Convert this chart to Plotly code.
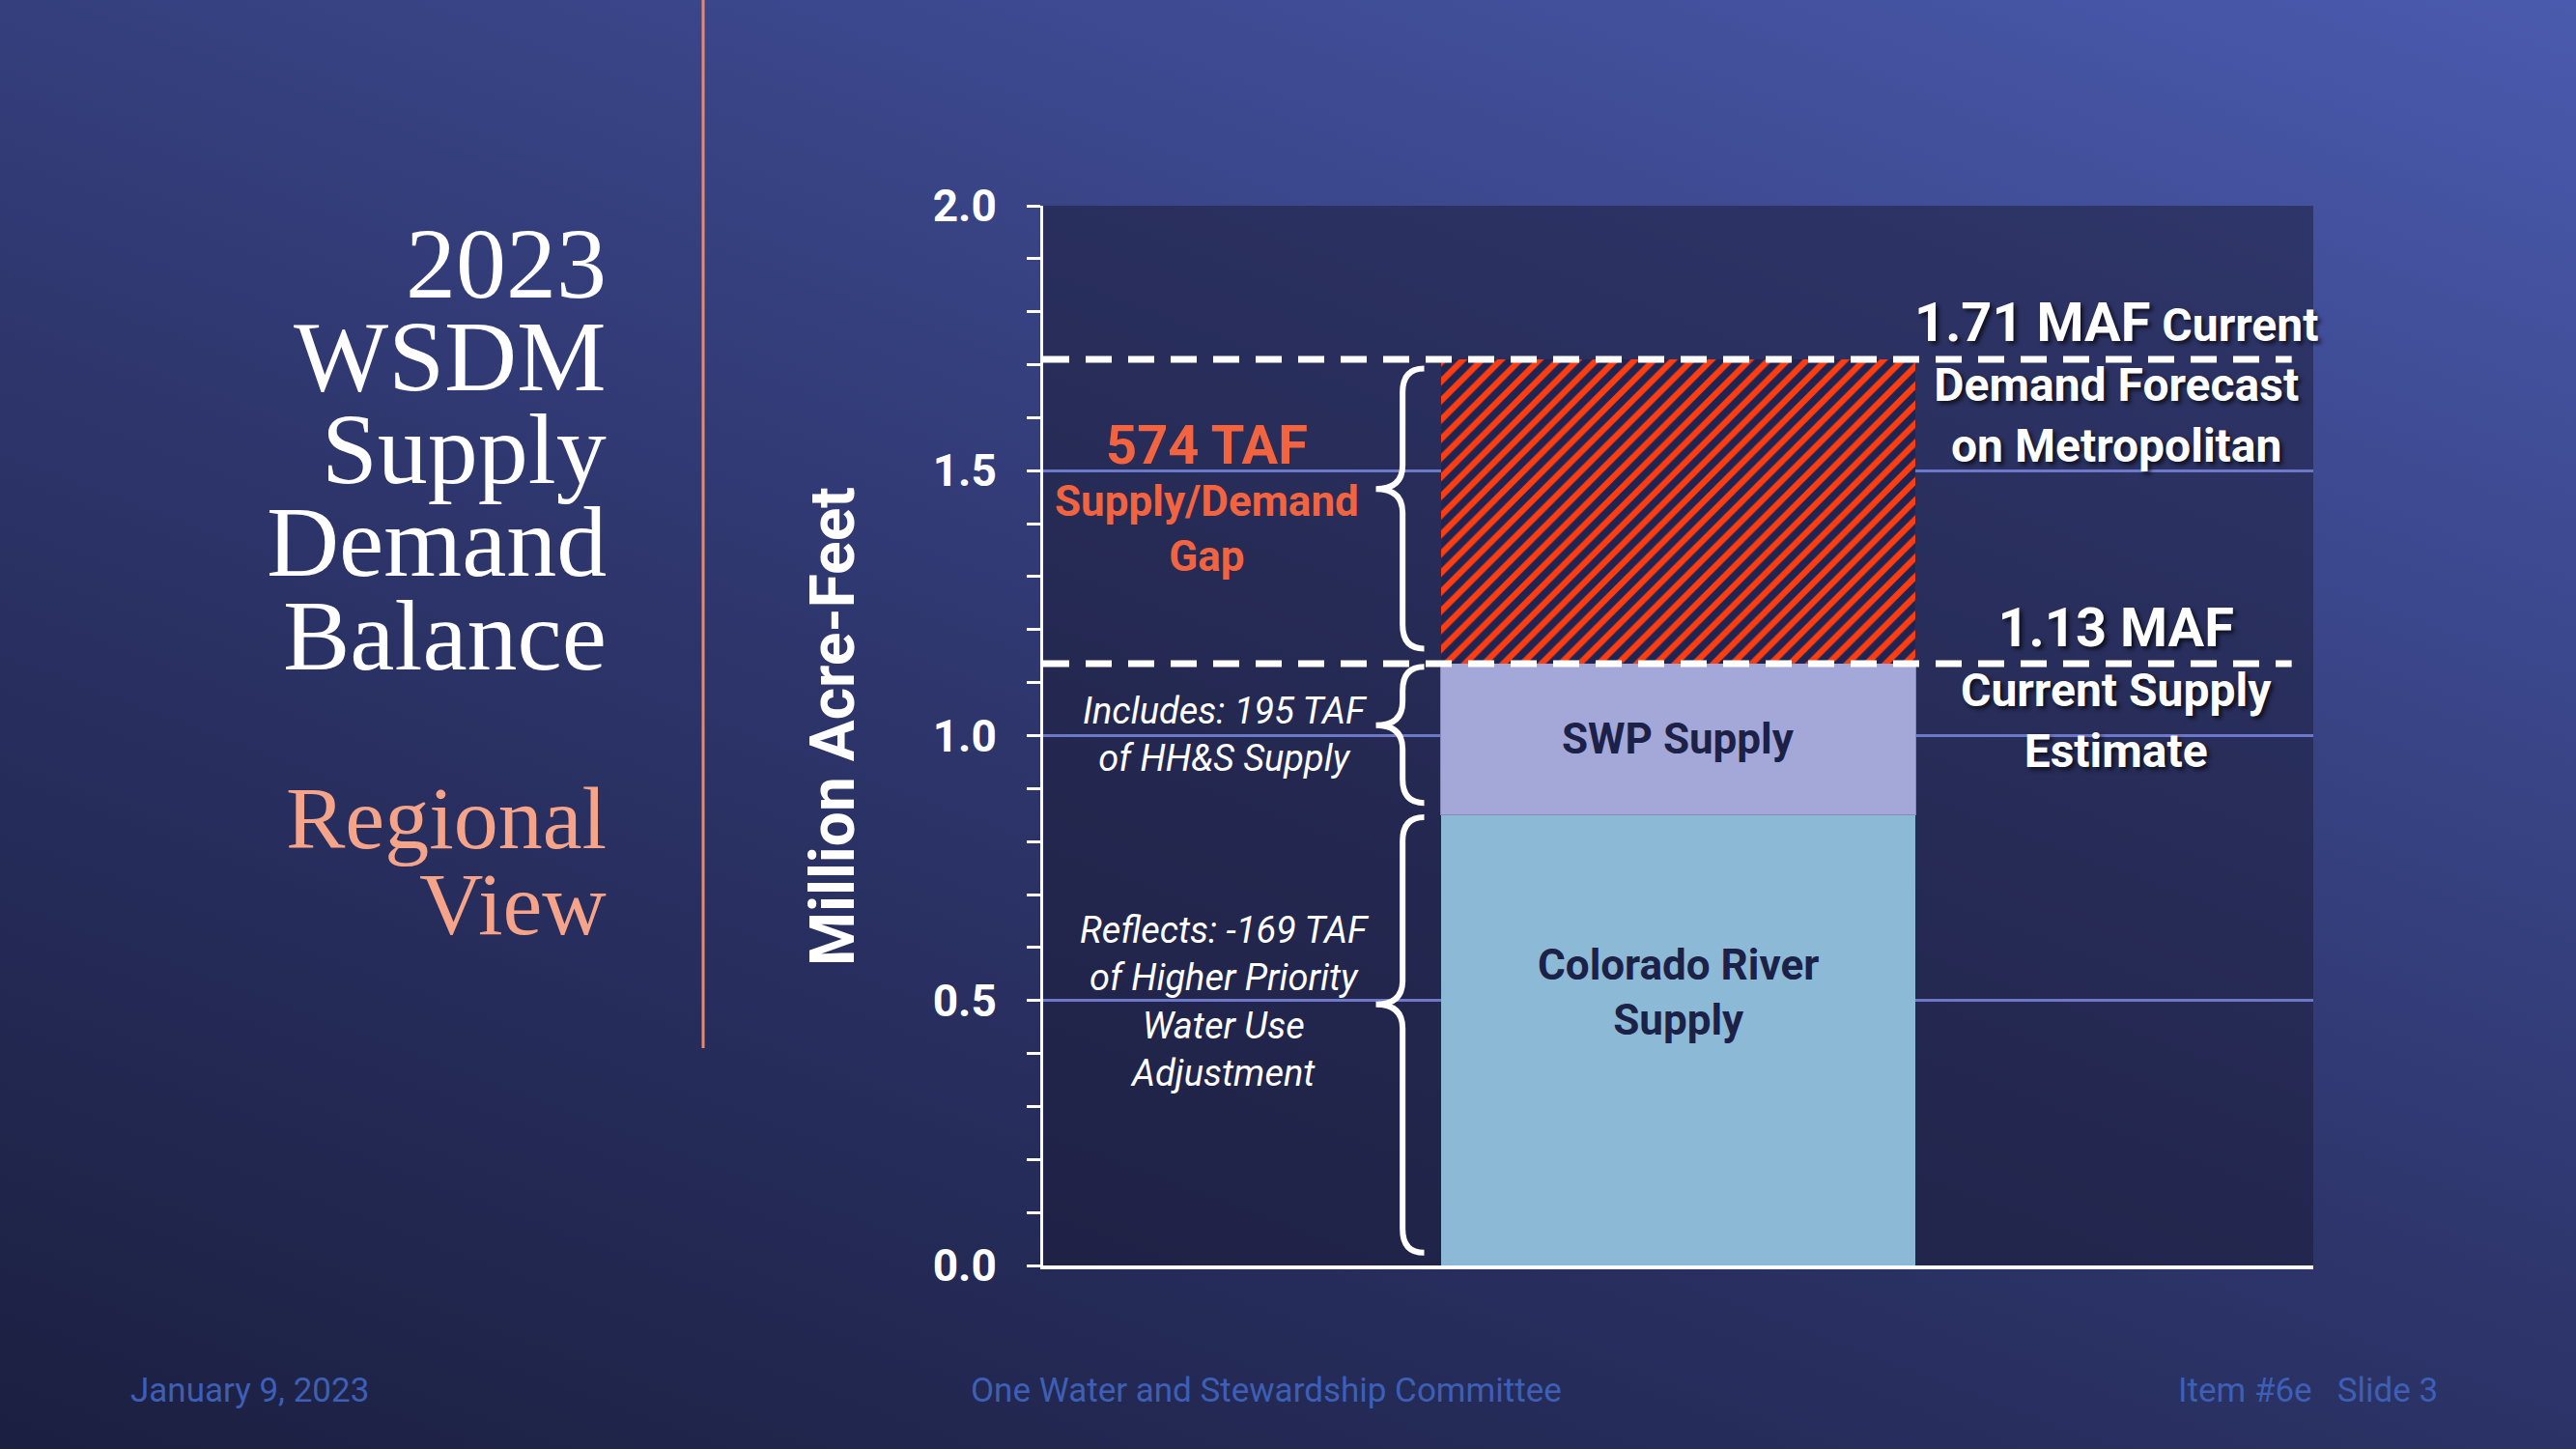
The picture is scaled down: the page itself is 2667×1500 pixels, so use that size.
import base64
import plotly.graph_objects as go

# ---- data (million acre-feet) ----
bar_x = [0]
colorado_supply = [0.85]
swp_supply = [0.286]
supply_gap = [0.574]
demand_total = 1.71
supply_total = 1.136
y_ticks = [0.0, 0.5, 1.0, 1.5, 2.0]

title_lines = ["2023", "WSDM", "Supply", "Demand", "Balance"]
subtitle_lines = ["Regional", "View"]

W, H = 2667, 1500
X_DOM = [1080 / W, 2395 / W]
Y_DOM = [1 - 1310 / H, 1 - 213 / H]

# background gradient as an svg image
svg = f"""<svg xmlns='http://www.w3.org/2000/svg' width='{W}' height='{H}' viewBox='0 0 {W} {H}' preserveAspectRatio='none'>
<defs><linearGradient id='g' x1='0' y1='1' x2='0.769' y2='-0.154'>
<stop offset='0' stop-color='#1b1f40'/><stop offset='0.45' stop-color='#2d356b'/><stop offset='1' stop-color='#4a5aae'/>
</linearGradient></defs>
<rect width='{W}' height='{H}' fill='url(#g)'/></svg>"""
bg_src = "data:image/svg+xml;base64," + base64.b64encode(svg.encode()).decode()

fig = go.Figure()
fig.add_trace(go.Bar(x=bar_x, y=colorado_supply, width=0.374, name="Colorado River Supply",
                     marker=dict(color="#8cbad6", line=dict(width=0)), hoverinfo="skip"))
fig.add_trace(go.Bar(x=bar_x, y=swp_supply, width=0.374, name="SWP Supply",
                     marker=dict(color="#a3a8d8", line=dict(width=1, color="#8a86b8")), hoverinfo="skip"))
fig.add_trace(go.Bar(x=bar_x, y=supply_gap, width=0.374, name="Gap",
                     marker=dict(color="#1f2552", line=dict(width=0),
                                 pattern=dict(shape="/", fgcolor="#ff3d10", bgcolor="#1f2552",
                                              size=14, solidity=0.45, fillmode="replace")),
                     hoverinfo="skip"))

shapes = []
# plot area panel
shapes.append(dict(type="rect", xref="x domain", yref="y domain", x0=0, x1=1, y0=0, y1=1,
                   fillcolor="rgba(26,25,52,0.5)", line=dict(width=0), layer="below"))
# dashed totals
for yv in [demand_total, supply_total]:
    shapes.append(dict(type="line", xref="x domain", yref="y", x0=0, x1=0.983, y0=yv, y1=yv,
                       line=dict(color="white", width=7, dash="27px,17px"), layer="above"))


def brace(y0, y1, frac=0.57, xt=-0.238, xs=-0.217, xe=-0.2, r=0.045):
    ym = y0 + frac * (y1 - y0)
    return (f"M {xe},{y1} Q {xs},{y1} {xs},{y1 - r} L {xs},{ym + r} "
            f"Q {xs},{ym} {xt},{ym} Q {xs},{ym} {xs},{ym - r} "
            f"L {xs},{y0 + r} Q {xs},{y0} {xe},{y0}")


c_top = colorado_supply[0]
s_top = c_top + swp_supply[0]
g_top = s_top + supply_gap[0]
for y0, y1 in [(0.024, c_top - 0.004), (c_top + 0.023, s_top - 0.006), (s_top + 0.028, g_top - 0.017)]:
    shapes.append(dict(type="path", xref="x", yref="y", path=brace(y0, y1),
                       line=dict(color="white", width=6), layer="above"))
# vertical divider
shapes.append(dict(type="line", xref="paper", yref="paper", x0=728 / W, x1=728 / W, y0=1 - 1085 / H, y1=1,
                   line=dict(color="#e9896c", width=3)))

ann = []
serif = "Liberation Serif"
for i, t in enumerate(title_lines):
    ann.append(dict(text=t, xref="paper", yref="paper", x=630 / W, y=1 - (272 + 96.3 * i) / H,
                    xanchor="right", yanchor="middle", showarrow=False,
                    font=dict(family=serif, size=104, color="white")))
for i, t in enumerate(subtitle_lines):
    ann.append(dict(text=t, xref="paper", yref="paper", x=630 / W, y=1 - (847 + 89 * i) / H,
                    xanchor="right", yanchor="middle", showarrow=False,
                    font=dict(family=serif, size=92, color="#f5a48a")))

ann.append(dict(text="Million Acre-Feet", xref="paper", yref="paper", x=862 / W, y=1 - 752 / H,
                textangle=-90, showarrow=False, xanchor="center", yanchor="middle",
                font=dict(family="Roboto", size=64, color="white", weight="bold")))

orange = "#f2643f"
ann.append(dict(text="574 TAF", xref="x domain", yref="y", x=0.129, y=1.548, showarrow=False,
                xanchor="center", font=dict(family="Roboto", size=56, color=orange, weight="bold")))
ann.append(dict(text="Supply/Demand<br>Gap", xref="x domain", yref="y", x=0.129, y=1.39, showarrow=False,
                xanchor="center", font=dict(family="Roboto", size=44, color=orange, weight="bold")))
ann.append(dict(text="Includes: 195 TAF<br>of HH&S Supply", xref="x domain", yref="y", x=0.143, y=1.002,
                xanchor="center", showarrow=False,
                font=dict(family="Roboto", size=38, color="white", style="italic")))
ann.append(dict(text="Reflects: -169 TAF<br>of Higher Priority<br>Water Use<br>Adjustment", xref="x domain",
                yref="y", x=0.143, y=0.498, xanchor="center", showarrow=False,
                font=dict(family="Roboto", size=38, color="white", style="italic")))
ann.append(dict(text="SWP Supply", xref="x", yref="y", x=0, y=(c_top + s_top) / 2, showarrow=False,
                xanchor="center", font=dict(family="Roboto", size=44, color="#1c2147", weight="bold")))
ann.append(dict(text="Colorado River<br>Supply", xref="x", yref="y", x=0, y=0.515, showarrow=False,
                xanchor="center", font=dict(family="Roboto", size=44, color="#1c2147", weight="bold")))

shadow = "3px 3px 4px rgba(0,0,0,0.65)"
ann.append(dict(text="<span style='font-size:56px'>1.71 MAF</span> Current<br>Demand Forecast<br>on Metropolitan",
                xref="x domain", yref="y", x=0.845, y=1.668, showarrow=False, xanchor="center",
                font=dict(family="Roboto", size=48, color="white", weight="bold", shadow=shadow)))
ann.append(dict(text="<span style='font-size:56px'>1.13 MAF</span><br>Current Supply<br>Estimate",
                xref="x domain", yref="y", x=0.845, y=1.092, showarrow=False, xanchor="center",
                font=dict(family="Roboto", size=48, color="white", weight="bold", shadow=shadow)))

foot = dict(family="Roboto", size=35, color="#3d5fb5")
ann.append(dict(text="January 9, 2023", xref="paper", yref="paper", x=133 / W, y=1 - 1439 / H,
                xanchor="left", yanchor="middle", showarrow=False, font=foot))
ann.append(dict(text="One Water and Stewardship Committee", xref="paper", yref="paper", x=1311 / W,
                y=1 - 1439 / H, xanchor="center", yanchor="middle", showarrow=False, font=foot))
ann.append(dict(text="Item #6e   Slide 3", xref="paper", yref="paper", x=2526 / W, y=1 - 1439 / H,
                xanchor="right", yanchor="middle", showarrow=False, font=foot))

fig.update_layout(
    width=W, height=H, margin=dict(l=0, r=0, t=0, b=0, pad=0, autoexpand=False),
    paper_bgcolor="#262c5a", plot_bgcolor="rgba(0,0,0,0)",
    barmode="stack", showlegend=False,
    images=[dict(source=bg_src, xref="paper", yref="paper", x=0, y=1, sizex=1, sizey=1,
                 sizing="stretch", xanchor="left", yanchor="top", layer="below")],
    shapes=shapes, annotations=ann,
    xaxis=dict(domain=X_DOM, range=[-0.5, 0.5], showgrid=False, zeroline=False, automargin=False,
               showticklabels=False, ticks="", showline=True, linecolor="white", linewidth=4,
               fixedrange=True),
    yaxis=dict(domain=Y_DOM, range=[0, 2], tickvals=y_ticks, tickformat=".1f", automargin=False,
               showgrid=True, gridcolor="#6e78c8", gridwidth=3, zeroline=False,
               showline=True, linecolor="white", linewidth=3,
               ticks="outside", ticklen=14, tickwidth=3, tickcolor="white", ticklabelstandoff=22,
               minor=dict(dtick=0.1, ticks="outside", ticklen=14, tickwidth=3, tickcolor="white",
                          showgrid=False),
               tickfont=dict(family="Roboto", size=46, color="white", weight="bold"),
               fixedrange=True),
)

fig.write_html("out.html", config={"displayModeBar": False},
               post_script="document.body.style.margin='0';document.body.style.overflow='hidden';")
